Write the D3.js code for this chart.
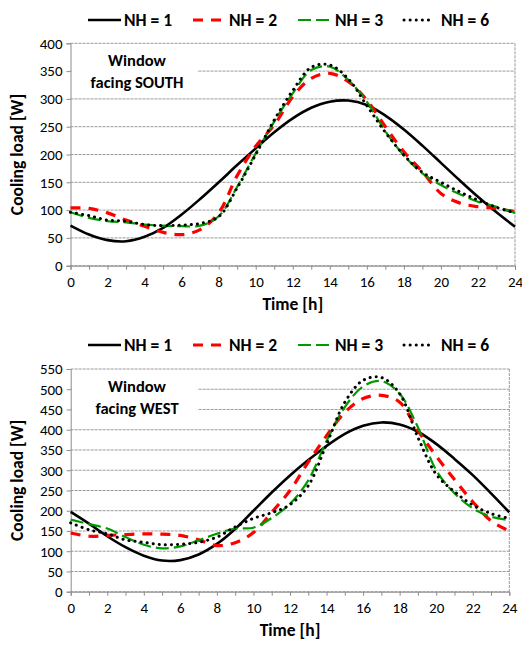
<!DOCTYPE html>
<html>
<head>
<meta charset="utf-8">
<script src="https://cdn.jsdelivr.net/npm/d3@7"></script>
<style>
  body { margin: 0; background: #fff; }
  svg text { font-family: Calibri, Carlito, "Liberation Sans", Arial, sans-serif; fill: #000; }
</style>
</head>
<body>
<svg id="chart" width="522" height="646"></svg>
<script>
const hours = d3.range(0, 25);
const seriesNames = ["NH = 1", "NH = 2", "NH = 3", "NH = 6"];

// window facing south, cooling load [W] per hour
const southNH1 = [72, 56, 46, 44, 52, 68, 92, 120, 150, 181, 211, 240, 265, 284, 295, 297, 289, 270, 245, 216, 185, 154, 124, 96, 70];
const southNH2 = [104, 103, 95, 82, 71, 60, 56, 65, 95, 162, 215, 253, 304, 337, 346, 331, 298, 250, 205, 169, 130, 113, 106, 103, 97];
const southNH3 = [96, 86, 80, 78, 74, 72, 71, 72, 89, 142, 202, 259, 310, 352, 358, 334, 295, 242, 198, 166, 145, 129, 115, 106, 95];
const southNH6 = [96, 90, 82, 80, 74, 72, 73, 76, 88, 140, 200, 262, 315, 357, 361, 336, 288, 240, 199, 168, 150, 133, 118, 105, 95];

// window facing west
const westNH1 = [197, 168, 137, 110, 89, 77, 78, 92, 118, 155, 200, 245, 287, 325, 360, 390, 410, 418, 413, 395, 365, 328, 288, 243, 196];
const westNH2 = [145, 137, 139, 141, 143, 142, 139, 128, 114, 121, 146, 196, 250, 320, 385, 443, 477, 485, 468, 398, 335, 277, 222, 175, 150];
const westNH3 = [178, 167, 156, 135, 116, 107, 112, 127, 143, 156, 158, 182, 217, 275, 372, 456, 507, 520, 489, 406, 300, 243, 206, 185, 177];
const westNH6 = [170, 153, 143, 128, 122, 116, 117, 122, 135, 160, 181, 195, 215, 262, 364, 468, 522, 529, 489, 381, 290, 247, 214, 193, 181];

const southTicks = d3.range(0, 401, 50);
const westTicks = d3.range(0, 551, 50);

const styles = [
  {color: "#000", width: 2.6, dash: null, cap: "butt"},
  {color: "#ff0000", width: 3.2, dash: "10,8", cap: "butt"},
  {color: "#009a00", width: 2.2, dash: "13,5", cap: "butt"},
  {color: "#000", width: 3, dash: "0.1,6", cap: "round"}
];

const svg = d3.select("#chart");

function drawLegend(y) {
  const items = [
    {x1: 88, x2: 121, tx: 124},
    {x1: 193, x2: 224, tx: 229},
    {x1: 298, x2: 333, tx: 335},
    {x1: 404, x2: 434, tx: 441}
  ];
  const g = svg.append("g");
  items.forEach((it, i) => {
    const s = styles[i];
    g.append("line")
      .attr("x1", it.x1).attr("x2", it.x2)
      .attr("y1", y).attr("y2", y)
      .attr("stroke", s.color)
      .attr("stroke-width", s.width)
      .attr("stroke-linecap", s.cap)
      .attr("stroke-dasharray", s.dash);
    g.append("text")
      .attr("x", it.tx).attr("y", y + 6)
      .style("font-size", "17.5px")
      .style("font-weight", "bold")
      .text(seriesNames[i]);
  });
}

function drawPanel(cfg) {
  const x = d3.scaleLinear().domain([0, 24]).range([cfg.left, cfg.right]);
  const y = d3.scaleLinear().domain([0, cfg.ymax]).range([cfg.bottom, cfg.top]);
  const g = svg.append("g");

  // horizontal dashed grid
  g.selectAll(".grid")
    .data(cfg.yTicks)
    .enter()
    .append("line")
    .attr("x1", cfg.left).attr("x2", cfg.right)
    .attr("y1", d => y(d)).attr("y2", d => y(d))
    .attr("stroke", "#9a9a9a")
    .attr("stroke-width", 1)
    .attr("stroke-dasharray", "3,1");

  // right border
  g.append("line")
    .attr("x1", cfg.right).attr("x2", cfg.right)
    .attr("y1", cfg.top).attr("y2", cfg.bottom)
    .attr("stroke", "#9a9a9a")
    .attr("stroke-dasharray", "3,1");

  // white box behind the note
  g.append("rect")
    .attr("x", cfg.left + 1).attr("y", cfg.noteY - 14)
    .attr("width", 126).attr("height", 44)
    .attr("fill", "#fff");

  // y axis
  const yAxis = g.append("g")
    .attr("transform", `translate(${cfg.left},0)`)
    .call(d3.axisLeft(y).tickValues(cfg.yTicks).tickSize(4).tickPadding(4));
  yAxis.select(".domain").attr("stroke", "#8c8c8c");
  yAxis.selectAll(".tick line").attr("stroke", "#8c8c8c");
  yAxis.selectAll("text").style("font-size", "15px").attr("fill", "#000")
    .style("font-family", "Calibri, Carlito, 'Liberation Sans', Arial, sans-serif");

  // x axis, ticks every hour, labels every 2 h
  const xAxis = g.append("g")
    .attr("transform", `translate(0,${cfg.bottom})`)
    .call(d3.axisBottom(x).tickValues(hours).tickSize(4).tickPadding(7)
      .tickFormat(d => d % 2 === 0 ? d : ""));
  xAxis.select(".domain").attr("stroke", "#8c8c8c");
  xAxis.selectAll(".tick line").attr("stroke", "#8c8c8c");
  xAxis.selectAll("text").style("font-size", "15px").attr("fill", "#000")
    .style("font-family", "Calibri, Carlito, 'Liberation Sans', Arial, sans-serif");

  // series
  const line = d3.line()
    .x((d, i) => x(hours[i]))
    .y(d => y(d))
    .curve(d3.curveCatmullRom.alpha(0.5));
  cfg.series.forEach((vals, i) => {
    const s = styles[i];
    g.append("path")
      .datum(vals)
      .attr("d", line)
      .attr("fill", "none")
      .attr("stroke", s.color)
      .attr("stroke-width", s.width)
      .attr("stroke-linecap", s.cap)
      .attr("stroke-dasharray", s.dash);
  });

  // note
  g.append("text")
    .attr("x", 137).attr("y", cfg.noteY + 6)
    .attr("text-anchor", "middle")
    .style("font-size", "16.5px").style("font-weight", "bold")
    .text("Window");
  g.append("text")
    .attr("x", 137).attr("y", cfg.noteY + 28)
    .attr("text-anchor", "middle")
    .style("font-size", "16.5px").style("font-weight", "bold")
    .text(cfg.note);

  // axis titles
  g.append("text")
    .attr("x", (cfg.left + cfg.right) / 2).attr("y", cfg.bottom + 44)
    .attr("text-anchor", "middle")
    .style("font-size", "17.5px").style("font-weight", "bold")
    .text("Time [h]");
  g.append("text")
    .attr("transform", `translate(23,${(cfg.top + cfg.bottom) / 2}) rotate(-90)`)
    .attr("text-anchor", "middle")
    .style("font-size", "17.5px").style("font-weight", "bold")
    .text("Cooling load [W]");
}

drawLegend(20);
drawPanel({
  left: 70.5, right: 515, top: 43.3, bottom: 265.7, ymax: 400,
  yTicks: southTicks, noteY: 60, note: "facing SOUTH",
  series: [southNH1, southNH2, southNH3, southNH6]
});
drawLegend(345);
drawPanel({
  left: 70.7, right: 509.3, top: 369, bottom: 591.7, ymax: 550,
  yTicks: westTicks, noteY: 386, note: "facing WEST",
  series: [westNH1, westNH2, westNH3, westNH6]
});
</script>
</body>
</html>
